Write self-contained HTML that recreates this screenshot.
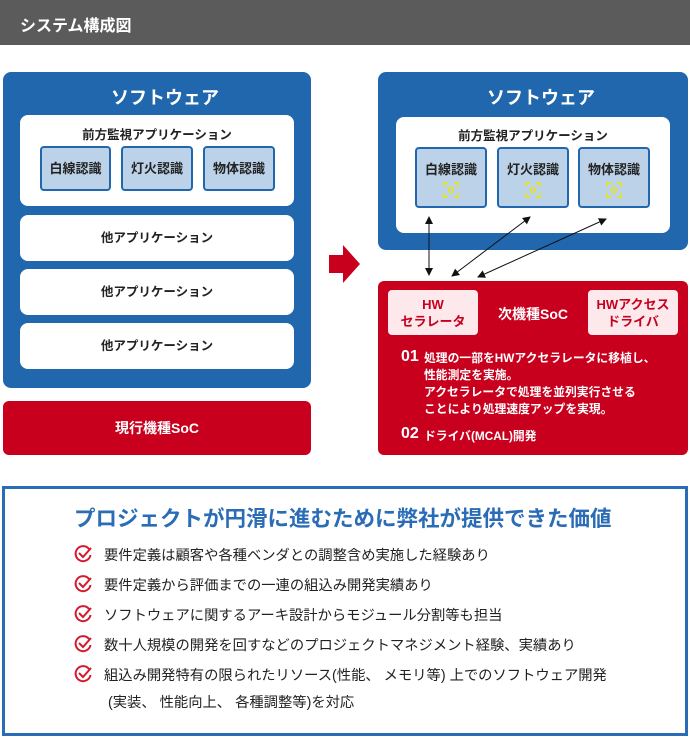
<!DOCTYPE html>
<html><head><meta charset="utf-8"><style>
*{margin:0;padding:0;box-sizing:border-box}
body{width:690px;height:737px;background:#fff;font-family:"Liberation Sans","Noto Sans CJK JP",sans-serif;position:relative;overflow:hidden}
.a{position:absolute}
.hdr{left:0;top:0;width:690px;height:45px;background:#5b5b5b;color:#fff;font-weight:bold;font-size:16px;padding:12px 0 0 20px}
.blue{background:#2167ae;border-radius:8px}
.white{background:#fff;border-radius:8px}
.sb{background:#bcd2e8;border:2px solid #2167ae;border-radius:4px;font-weight:bold;font-size:13px;text-align:center;color:#222}
.ttl{color:#fff;font-weight:bold;font-size:18px;text-align:center;padding-left:16px}
.c{text-align:center;font-weight:bold;font-size:12.5px;color:#222}
.red{background:#c8001e;border-radius:6px}
.pk{background:#fde8ec;border-radius:4px;color:#c8001e;font-weight:bold;font-size:13px;text-align:center;line-height:17px}
.li{left:104px;font-size:14.3px;color:#222}
.ck{left:74px}
</style></head><body>
<div class="a hdr">システム構成図</div>

<div class="a blue" style="left:3px;top:72px;width:308px;height:316px"></div>
<div class="a ttl" style="left:3px;top:84px;width:308px">ソフトウェア</div>
<div class="a white" style="left:20px;top:115px;width:274px;height:91px"></div>
<div class="a c" style="left:20px;top:124px;width:274px">前方監視アプリケーション</div>
<div class="a sb" style="left:40px;top:146px;width:71px;height:45px;line-height:41px">白線認識</div>
<div class="a sb" style="left:121px;top:146px;width:72px;height:45px;line-height:41px">灯火認識</div>
<div class="a sb" style="left:203px;top:146px;width:72px;height:45px;line-height:41px">物体認識</div>
<div class="a white c" style="left:20px;top:215px;width:274px;height:46px;line-height:46px">他アプリケーション</div>
<div class="a white c" style="left:20px;top:269px;width:274px;height:46px;line-height:46px">他アプリケーション</div>
<div class="a white c" style="left:20px;top:323px;width:274px;height:46px;line-height:46px">他アプリケーション</div>
<div class="a red" style="left:3px;top:401px;width:308px;height:54px;color:#fff;font-weight:bold;font-size:14px;text-align:center;line-height:54px">現行機種SoC</div>

<svg class="a" style="left:329px;top:245px" width="32" height="38"><polygon points="0,10 14,10 14,0 31,19 14,38 14,28 0,28" fill="#c8001e"/></svg>

<div class="a blue" style="left:378px;top:72px;width:310px;height:178px"></div>
<div class="a ttl" style="left:378px;top:84px;width:310px">ソフトウェア</div>
<div class="a white" style="left:396px;top:117px;width:274px;height:116px"></div>
<div class="a c" style="left:396px;top:125px;width:274px">前方監視アプリケーション</div>
<div class="a sb" style="left:415px;top:147px;width:72px;height:61px;padding-top:10px">白線認識</div>
<div class="a sb" style="left:497px;top:147px;width:72px;height:61px;padding-top:10px">灯火認識</div>
<div class="a sb" style="left:578px;top:147px;width:72px;height:61px;padding-top:10px">物体認識</div>
<svg class="a" style="left:0;top:0" width="690" height="300">
<defs><marker id="m" markerWidth="8" markerHeight="8" refX="7" refY="4" orient="auto-start-reverse"><path d="M0,0 L8,4 L0,8z" fill="#111"/></marker>
<g id="ic" fill="none" stroke="#e8e600" stroke-width="1.5"><path d="M-7,-3V-7H-3M3,-7H7V-3M7,3V7H3M-3,7H-7V3"/><circle r="2.5"/></g></defs>
<use href="#ic" x="451" y="190"/><use href="#ic" x="533" y="190"/><use href="#ic" x="614" y="190"/>
<g stroke="#111" stroke-width="1" marker-start="url(#m)" marker-end="url(#m)">
<line x1="429" y1="217" x2="429" y2="275"/>
<line x1="530" y1="217" x2="452" y2="276"/>
<line x1="606" y1="219" x2="478" y2="277"/>
</g></svg>

<div class="a red" style="left:378px;top:281px;width:310px;height:174px"></div>
<div class="a pk" style="left:388px;top:290px;width:90px;height:45px;padding-top:6px">HW<br>セラレータ</div>
<div class="a pk" style="left:588px;top:290px;width:90px;height:45px;padding-top:6px">HWアクセス<br>ドライバ</div>
<div class="a" style="left:478px;top:304px;width:110px;text-align:center;color:#fff;font-weight:bold;font-size:14px">次機種SoC</div>
<div class="a" style="left:401px;top:348px;color:#fff;font-weight:bold;font-size:16px">01</div>
<div class="a" style="left:424px;top:350px;color:#fff;font-weight:bold;font-size:11.8px;line-height:17px">処理の一部をHWアクセラレータに移植し、<br>性能測定を実施。<br>アクセラレータで処理を並列実行させる<br>ことにより処理速度アップを実現。</div>
<div class="a" style="left:401px;top:425px;color:#fff;font-weight:bold;font-size:16px">02</div>
<div class="a" style="left:424px;top:427px;color:#fff;font-weight:bold;font-size:11.8px">ドライバ(MCAL)開発</div>

<div class="a" style="left:2px;top:486px;width:686px;height:250px;border:3px solid #2a6cb5"></div>
<div class="a" style="left:74px;top:502px;color:#2a6cb5;font-weight:bold;font-size:21.5px">プロジェクトが円滑に進むために弊社が提供できた価値</div>
<svg class="a" style="left:0;top:0" width="690" height="737"><defs><g id="ck" fill="none" stroke="#d4192e" stroke-width="2"><path d="M14,3 A7.5,7.5 0 1 0 15.5,9"/><path d="M4,7 L8,11 L16,2"/></g></defs>
<use href="#ck" x="75" y="546"/><use href="#ck" x="75" y="576"/><use href="#ck" x="75" y="606"/><use href="#ck" x="75" y="636"/><use href="#ck" x="75" y="666"/></svg>
<div class="a li" style="top:544px">要件定義は顧客や各種ベンダとの調整含め実施した経験あり</div>
<div class="a li" style="top:574px">要件定義から評価までの一連の組込み開発実績あり</div>
<div class="a li" style="top:604px">ソフトウェアに関するアーキ設計からモジュール分割等も担当</div>
<div class="a li" style="top:634px">数十人規模の開発を回すなどのプロジェクトマネジメント経験、実績あり</div>
<div class="a li" style="top:664px">組込み開発特有の限られたリソース(性能、 メモリ等) 上でのソフトウェア開発</div>
<div class="a li" style="top:691px;left:108px">(実装、 性能向上、 各種調整等)を対応</div>
</body></html>
